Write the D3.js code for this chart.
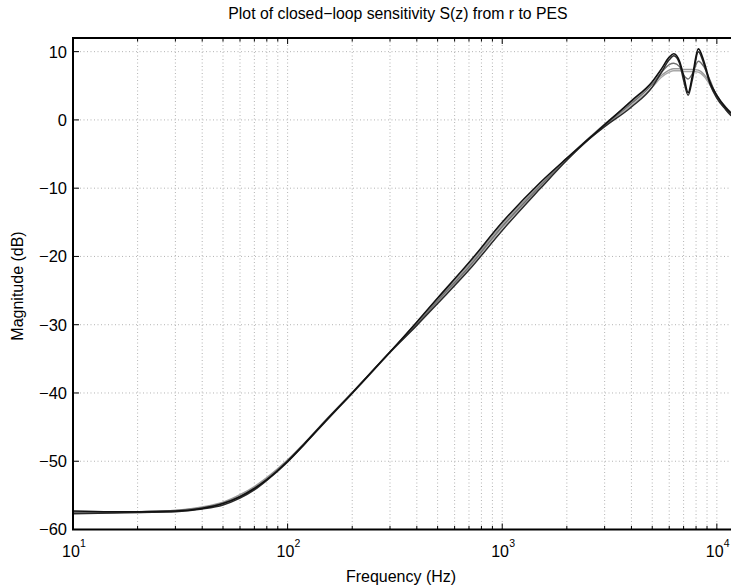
<!DOCTYPE html>
<html>
<head>
<meta charset="utf-8">
<script src="https://cdn.jsdelivr.net/npm/d3@7"></script>
<style>
  body { margin: 0; background: #fff; }
  svg { display: block; font-family: "Liberation Sans", Arial, sans-serif; }
</style>
</head>
<body>
<div id="d3"></div>
<script>
// frequency points (Hz) shared by every trace
const freq_hz = [10, 15, 20, 30, 40, 50, 60, 70, 80, 100, 120, 150, 200, 300, 400, 500, 700,
    1000, 1500, 2000, 2500, 3000, 4000, 5000, 5500, 6000, 6300, 6700, 7000, 7350, 7700,
    8200, 8700, 9300, 10000, 11000, 11650];

// magnitude traces (dB)
const mag_dark_a = [-57.3, -57.4, -57.4, -57.3, -56.9, -56.2, -55.2, -54.0, -52.7, -50.0, -47.4, -44.1, -40.0, -34.0, -29.6, -26.1, -20.9,
    -15.0, -9.2, -5.6, -2.9, -0.7, 2.8, 5.6, 7.4, 9.2, 9.7, 8.6, 6.5, 4.0, 6.5,
    10.4, 8.6, 5.5, 3.6, 1.8, 1.0];
const mag_dark_b = [-57.7, -57.6, -57.5, -57.4, -57.0, -56.4, -55.4, -54.2, -52.8, -50.1, -47.5, -44.2, -40.0, -34.0, -30.1, -26.9, -22.0,
    -16.2, -10.1, -5.9, -3.0, -1.0, 1.9, 4.8, 6.9, 8.8, 9.4, 8.3, 5.8, 3.6, 6.0,
    10.0, 8.2, 5.2, 3.2, 1.5, 0.6];
const mag_mid = [-57.5, -57.5, -57.4, -57.2, -56.8, -56.1, -55.1, -53.9, -52.6, -49.9, -47.4, -44.1, -40.0, -34.0, -29.9, -26.5, -21.5,
    -15.6, -9.7, -5.7, -2.9, -0.8, 2.4, 5.2, 6.9, 8.1, 8.3, 7.8, 6.6, 6.0, 6.8,
    8.6, 7.8, 5.8, 3.4, 1.6, 0.8];
const mag_light_a = [-57.6, -57.5, -57.4, -57.2, -56.7, -56.0, -54.9, -53.7, -52.4, -49.8, -47.3, -44.0, -39.9, -34.0, -29.7, -26.3, -21.2,
    -15.3, -9.5, -5.6, -2.8, -0.6, 2.6, 5.3, 6.5, 7.3, 7.5, 7.5, 7.4, 7.4, 7.4,
    7.3, 6.7, 5.4, 3.6, 1.9, 1.1];
const mag_light_b = [-57.4, -57.5, -57.5, -57.3, -56.9, -56.2, -55.2, -54.0, -52.7, -50.0, -47.5, -44.2, -40.1, -34.1, -30.0, -26.7, -21.7,
    -15.8, -9.9, -5.8, -3.0, -0.9, 2.1, 4.8, 6.2, 7.0, 7.2, 7.2, 7.1, 7.1, 7.1,
    7.0, 6.4, 5.1, 3.3, 1.6, 0.8];

const y_ticks = [-60, -50, -40, -30, -20, -10, 0, 10];
const x_decades = [10, 100, 1000, 10000];
const x_exponents = ["1", "2", "3", "4"];

const traces = [
    { values: mag_light_b, color: "#a8a8a8", width: 1.4 },
    { values: mag_light_a, color: "#9a9a9a", width: 1.4 },
    { values: mag_mid, color: "#707070", width: 1.4 },
    { values: mag_dark_b, color: "#2a2a2a", width: 1.5 },
    { values: mag_dark_a, color: "#111111", width: 1.6 },
];

const width = 731, height = 587;
const plot_left = 73, plot_right = 740, plot_top = 38, plot_bottom = 529.5;

const svg = d3.select("#d3").append("svg")
    .attr("width", width)
    .attr("height", height);

const x = d3.scaleLog().domain([10, 12820]).range([plot_left, plot_right]);
const y = d3.scaleLinear().domain([-60, 12]).range([plot_bottom, plot_top]);

// minor + major log positions
let x_all = [];
x_decades.forEach(d => {
    for (let m = 1; m < 10; m++) {
        const v = d * m;
        if (v <= x.domain()[1]) x_all.push(v);
    }
});

// grid
const grid = svg.append("g").attr("stroke", "#a0a0a0").attr("stroke-width", 0.8).attr("stroke-dasharray", "1,2.5");
grid.selectAll("line.vx").data(x_all.filter(v => v > 10)).enter().append("line")
    .attr("x1", d => x(d)).attr("x2", d => x(d))
    .attr("y1", plot_top).attr("y2", plot_bottom);
grid.selectAll("line.hy").data(y_ticks.filter(v => v > -60)).enter().append("line")
    .attr("x1", plot_left).attr("x2", plot_right)
    .attr("y1", d => y(d)).attr("y2", d => y(d));

// curves
svg.append("clipPath").attr("id", "clip").append("rect")
    .attr("x", plot_left).attr("y", plot_top).attr("width", plot_right - plot_left).attr("height", plot_bottom - plot_top);

const line = d3.line()
    .x((d, i) => x(freq_hz[i]))
    .y(d => y(d))
    .curve(d3.curveMonotoneX);

svg.append("g").attr("clip-path", "url(#clip)")
    .selectAll("path").data(traces).enter().append("path")
    .attr("d", d => line(d.values))
    .attr("fill", "none")
    .attr("stroke", d => d.color)
    .attr("stroke-width", d => d.width)
    .attr("stroke-linejoin", "round");

// ticks (inside, matlab style)
const ticks = svg.append("g").attr("stroke", "#000").attr("stroke-width", 1);
x_all.forEach(v => {
    const len = x_decades.includes(v) ? 6 : 3.5;
    ticks.append("line").attr("x1", x(v)).attr("x2", x(v)).attr("y1", plot_bottom).attr("y2", plot_bottom - len);
    ticks.append("line").attr("x1", x(v)).attr("x2", x(v)).attr("y1", plot_top).attr("y2", plot_top + len);
});
y_ticks.forEach(v => {
    ticks.append("line").attr("x1", plot_left).attr("x2", plot_left + 6).attr("y1", y(v)).attr("y2", y(v));
});

// axis box
svg.append("path")
    .attr("d", `M${plot_right},${plot_top}H${plot_left}V${plot_bottom}H${plot_right}`)
    .attr("fill", "none").attr("stroke", "#000").attr("stroke-width", 2);

// y tick labels
svg.append("g").selectAll("text").data(y_ticks).enter().append("text")
    .attr("x", plot_left - 6).attr("y", d => y(d)).attr("dy", "0.36em")
    .attr("text-anchor", "end").attr("font-size", 16.5)
    .text(d => d < 0 ? "\u2212" + Math.abs(d) : d);

// x tick labels: whole "10^n" roughly centred on the tick
const xl = svg.append("g").selectAll("g").data(x_decades).enter().append("g");
xl.append("text")
    .attr("x", d => x(d) - 11).attr("y", 557)
    .attr("font-size", 16)
    .text("10");
xl.append("text")
    .attr("x", d => x(d) + 7).attr("y", 547)
    .attr("font-size", 10.5)
    .text((d, i) => x_exponents[i]);

// labels
svg.append("text").attr("x", 398).attr("y", 19).attr("text-anchor", "middle")
    .attr("font-size", 15.8).text("Plot of closed\u2212loop sensitivity S(z) from r to PES");
svg.append("text").attr("x", 401).attr("y", 582).attr("text-anchor", "middle")
    .attr("font-size", 16).text("Frequency (Hz)");
svg.append("text").attr("transform", "translate(23,286) rotate(-90)").attr("text-anchor", "middle")
    .attr("font-size", 16).text("Magnitude (dB)");
</script>
</body>
</html>
